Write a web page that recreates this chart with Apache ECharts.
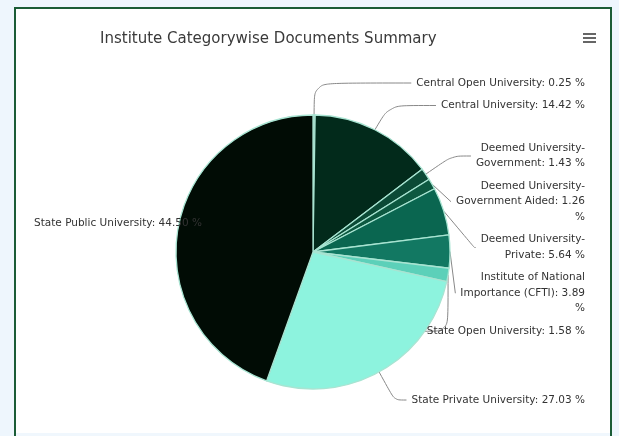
<!DOCTYPE html>
<html>
<head>
<meta charset="utf-8">
<script src="https://cdn.jsdelivr.net/npm/echarts@6/dist/echarts.min.js"></script>
<style>
html,body{margin:0;padding:0;width:619px;height:436px;background:#eef6fd;overflow:hidden;}
#card{position:absolute;left:14px;top:7px;width:594px;height:440px;background:#fff;border:2px solid #1b5c36;}
#band{position:absolute;left:16px;top:433px;width:594px;height:10px;background:#f0f7fd;}
#chart{position:absolute;left:0;top:0;width:619px;height:436px;}
</style>
</head>
<body>
<div id="card"></div>
<div id="band"></div>
<div id="chart"></div>
<script>
const titleText = 'Institute Categorywise Documents Summary';
const categories = [
  'Central Open University',
  'Central University',
  'Deemed University-Government',
  'Deemed University-Government Aided',
  'Deemed University-Private',
  'Institute of National Importance (CFTI)',
  'State Open University',
  'State Private University',
  'State Public University'
];
const values = [0.25, 14.42, 1.43, 1.26, 5.64, 3.89, 1.58, 27.03, 44.50];
const colors = ['#a3b8ae', '#022a1b', '#0b4a36', '#0d5840', '#0a6650', '#127862', '#5cd0b9', '#8df3de', '#010c05'];
const wrapNames = new Set(['Deemed University-Government', 'Deemed University-Government Aided', 'Deemed University-Private', 'Institute of National Importance (CFTI)']);

function wrapLabel(name, pct) {
  const full = name + ': ' + pct + ' %';
  if (!wrapNames.has(name)) return full;
  const words = full.replace('-', '- ').split(' ');
  const lines = [];
  let cur = '';
  words.forEach(w => {
    const joiner = cur.endsWith('-') ? '' : (cur ? ' ' : '');
    const cand = cur + joiner + w;
    if (cand.length > 23 && cur) { lines.push(cur); cur = w; }
    else cur = cand;
  });
  if (cur) lines.push(cur);
  return lines.join('\n');
}

const chart = echarts.init(document.getElementById('chart'), null, {renderer: 'canvas'});
chart.setOption({
  backgroundColor: 'transparent',
  animation: false,
  title: {
    text: titleText,
    left: 95,
    top: 27,
    textStyle: {fontFamily: 'DejaVu Sans', fontSize: 15, fontWeight: 'normal', color: '#3a3a3a'}
  },
  graphic: [
    {type: 'rect', left: 583, top: 33, shape: {width: 13, height: 2}, style: {fill: '#666'}},
    {type: 'rect', left: 583, top: 37, shape: {width: 13, height: 2}, style: {fill: '#666'}},
    {type: 'rect', left: 583, top: 41, shape: {width: 13, height: 2}, style: {fill: '#666'}}
  ],
  series: [{
    type: 'pie',
    center: [313, 252],
    radius: 137,
    startAngle: 90,
    clockwise: true,
    avoidLabelOverlap: true,
    itemStyle: {borderColor: '#a8e4d2', borderWidth: 1.3},
    label: {
      show: true,
      position: 'outside',
      alignTo: 'edge',
      edgeDistance: 34,
      overflow: 'none',
      minMargin: 7,
      fontFamily: 'DejaVu Sans',
      fontSize: 10.5,
      color: '#333',
      lineHeight: 15.5,
      formatter: p => wrapLabel(p.name, p.value.toFixed(2))
    },
    labelLine: {show: true, length: 32, length2: 12, smooth: 0.3, lineStyle: {color: '#888', width: 1}},
    data: categories.map((c, i) => ({
      name: c, value: values[i], itemStyle: {color: colors[i]},
      labelLine: {show: i !== categories.length - 1}
    }))
  }]
});
</script>
</body>
</html>
